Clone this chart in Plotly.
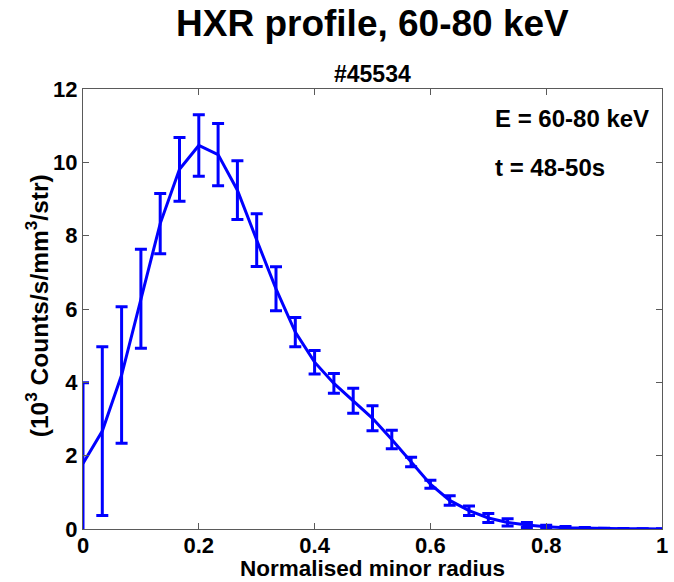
import plotly.graph_objects as go

radius = [0, 1/30, 2/30, 3/30, 4/30, 5/30, 6/30, 7/30, 8/30, 9/30, 10/30,
          11/30, 12/30, 13/30, 14/30, 15/30, 16/30, 17/30, 18/30, 19/30, 20/30,
          21/30, 22/30, 23/30, 24/30, 25/30, 26/30, 27/30, 28/30, 29/30, 1.0]
counts = [1.79, 2.67, 4.20, 6.28, 8.33, 9.81, 10.46, 10.21, 9.24, 7.88, 6.55,
          5.37, 4.55, 3.97, 3.50, 3.02, 2.44, 1.83, 1.22, 0.78, 0.50,
          0.30, 0.18, 0.11, 0.06, 0.035, 0.02, 0.012, 0.008, 0.005, 0.003]
errors = [2.2, 2.30, 1.86, 1.35, 0.82, 0.87, 0.84, 0.85, 0.80, 0.72, 0.60,
          0.40, 0.32, 0.27, 0.34, 0.34, 0.25, 0.13, 0.11, 0.13, 0.13,
          0.12, 0.10, 0.07, 0.04, 0.03, 0.02, 0.01, 0.008, 0.005, 0.003]

x_ticks = [0, 0.2, 0.4, 0.6, 0.8, 1]
x_ticklabels = ["0", "0.2", "0.4", "0.6", "0.8", "1"]
y_ticks = [0, 2, 4, 6, 8, 10, 12]

BLUE = "#0000ff"
AX = "#5a5a5a"
FONT = "Arial"

fig = go.Figure()
fig.add_trace(go.Scatter(
    x=radius, y=counts, mode="lines",
    line=dict(color=BLUE, width=3),
    error_y=dict(type="data", array=errors, visible=True,
                 color=BLUE, thickness=3, width=6),
    showlegend=False,
))

axis_common = dict(showline=True, linecolor=AX, linewidth=1, mirror="ticks",
                   ticks="inside", ticklen=6, tickcolor=AX, tickwidth=1,
                   showgrid=False, zeroline=False, ticklabeloverflow="allow",
                   tickfont=dict(family=FONT, size=22, color="black", weight="bold"))

fig.update_xaxes(range=[0, 1], tickvals=x_ticks, ticktext=x_ticklabels,
                 ticklabelstandoff=-3, **axis_common)
fig.update_yaxes(range=[0, 12], tickvals=y_ticks, **axis_common)

def ann(text, x, y, size, xanchor="center", textangle=0):
    return dict(text=text, x=x, y=y, xref="paper", yref="paper",
                xanchor=xanchor, yanchor="middle", showarrow=False,
                textangle=textangle, borderpad=0,
                font=dict(family=FONT, size=size, color="black", weight="bold"))

fig.update_layout(
    width=674, height=582,
    margin=dict(l=83, r=6, t=89, b=53),
    paper_bgcolor="white", plot_bgcolor="white",
    annotations=[
        ann("HXR profile, 60-80 keV", 0.5, 1.149, 37),
        ann("#45534", 0.5, 1.035, 23),
        ann("E = 60-80 keV", 0.7094, 0.9325, 24, xanchor="left"),
        ann("t = 48-50s", 0.7094, 0.8209, 24, xanchor="left"),
        ann("Normalised minor radius", 0.5, -0.089, 22.5),
        ann("(10<sup>3</sup> Counts/s/mm<sup>3</sup>/str)", -0.079, 0.507, 24.5, textangle=-90),
    ],
)

fig.write_html("out.html")
